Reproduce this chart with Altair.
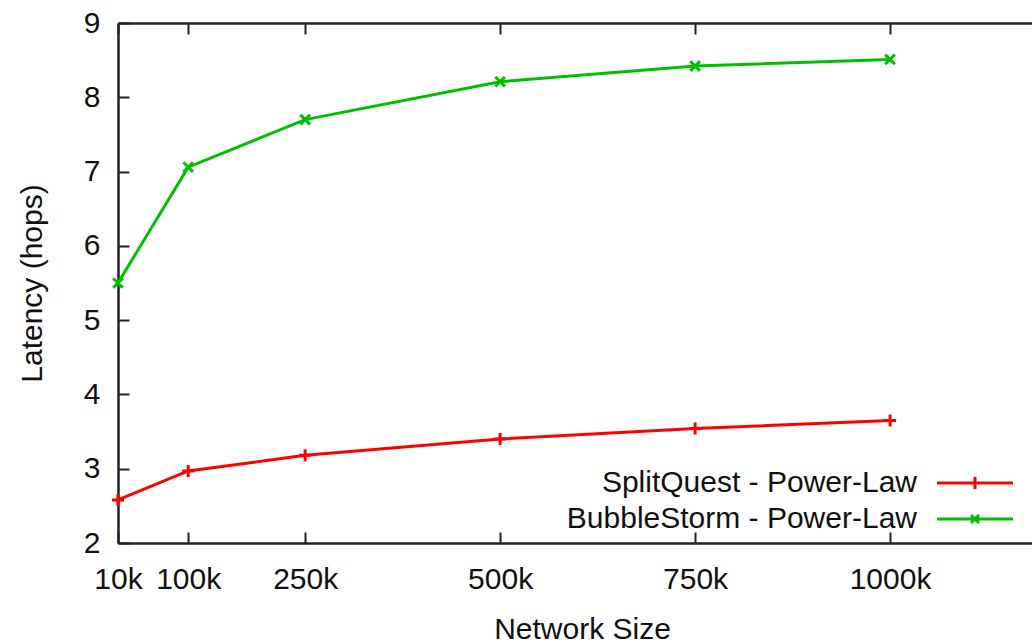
import altair as alt
import pandas as pd

# Network sizes (nodes) and measured mean latency in hops
sizes = [10000, 100000, 250000, 500000, 750000, 1000000]
splitquest = [2.58, 2.97, 3.18, 3.40, 3.54, 3.65]
bubblestorm = [5.50, 7.06, 7.70, 8.21, 8.42, 8.51]

series_names = ["SplitQuest - Power-Law", "BubbleStorm - Power-Law"]
series_colors = ["#ff0000", "#00c000"]
y_ticks = [2, 3, 4, 5, 6, 7, 8, 9]

rows = []
for name, values in zip(series_names, [splitquest, bubblestorm]):
    for s, v in zip(sizes, values):
        rows.append({"size": s, "latency": v, "series": name})
df = pd.DataFrame(rows)

FONT = "Liberation Sans"
INK = "#111111"
AXIS_INK = "#222222"

# gnuplot-like point glyphs: "+" and "x", drawn as stroked paths
marker_paths = ["M-1,0L1,0M0,-1L0,1", "M-0.8,-0.8L0.8,0.8M-0.8,0.8L0.8,-0.8"]
# key samples: a line segment with the series' glyph in the middle
key_paths = [
    "M-3.8,0L3.8,0M0,-0.6L0,0.6",
    "M-3.8,0L3.8,0M-0.4,-0.4L0.4,0.4M-0.4,0.4L0.4,-0.4",
]

x_scale = alt.Scale(domain=[10000, 1182000], nice=False, zero=False)
y_scale = alt.Scale(domain=[2, 9], nice=False, zero=False)
color_scale = alt.Scale(domain=series_names, range=series_colors)

inward = alt.ExprRef("-11")

y_enc = alt.Y(
    "latency:Q",
    scale=y_scale,
    axis=alt.Axis(
        values=y_ticks,
        grid=False,
        domainColor=AXIS_INK,
        domainWidth=2.5,
        tickColor=AXIS_INK,
        tickWidth=2,
        tickSize=inward,
        labelPadding=29,
        labelFont=FONT,
        labelFontSize=30,
        labelColor=INK,
        title="Latency (hops)",
        titleFont=FONT,
        titleFontSize=30,
        titleFontWeight="normal",
        titleColor=INK,
        titleAngle=270,
        titleX=-77,
        titleY=260,
        titleAlign="center",
        titleBaseline="alphabetic",
    ),
)

x_bottom = alt.X(
    "size:Q",
    scale=x_scale,
    axis=alt.Axis(
        orient="bottom",
        values=sizes,
        labelExpr="datum.value / 1000 + 'k'",
        grid=False,
        domainColor=AXIS_INK,
        domainWidth=2.5,
        tickColor=AXIS_INK,
        tickWidth=2,
        tickSize=inward,
        labelPadding=32,
        labelFont=FONT,
        labelFontSize=30,
        labelColor=INK,
        labelFlush=False,
        labelOverlap=False,
        title="Network Size",
        titleFont=FONT,
        titleFontSize=30,
        titleFontWeight="normal",
        titleColor=INK,
        titleX=464,
        titleY=95,
        titleAlign="center",
        titleBaseline="alphabetic",
    ),
)

x_top = alt.X(
    "size:Q",
    scale=x_scale,
    axis=alt.Axis(
        orient="top",
        values=sizes,
        grid=False,
        labels=False,
        title=None,
        domainColor=AXIS_INK,
        domainWidth=2.5,
        tickColor=AXIS_INK,
        tickWidth=2,
        tickSize=inward,
    ),
)

# key text sits to the left of its sample line, right-aligned
key = alt.Legend(
    title=None,
    orient="none",
    legendX=442,
    legendY=445,
    padding=0,
    labelAlign="right",
    labelFont=FONT,
    labelFontSize=30,
    labelColor=INK,
    labelLimit=0,
    symbolSize=400,
    symbolStrokeWidth=3,
    symbolOffset=400,
    labelOffset=alt.ExprRef("-73"),
    rowPadding=6,
)

lines = alt.Chart(df).mark_line(strokeWidth=3).encode(
    x=x_bottom,
    y=y_enc,
    color=alt.Color("series:N", scale=color_scale, legend=None),
    detail="series:N",
)

points = alt.Chart(df).mark_point(filled=False, strokeWidth=3, size=144, opacity=1).encode(
    x=x_top,
    y=y_enc,
    color=alt.Color("series:N", scale=color_scale, legend=None),
    shape=alt.Shape(
        "series:N",
        scale=alt.Scale(domain=series_names, range=marker_paths),
        legend=None,
    ),
)

key_layer = (
    alt.Chart(df)
    .transform_filter("false")
    .mark_point(filled=False, strokeWidth=3, opacity=1)
    .encode(
        x=alt.X("size:Q", scale=x_scale, axis=None),
        y=y_enc,
        color=alt.Color("series:N", scale=color_scale, legend=key),
        shape=alt.Shape(
            "series:N",
            scale=alt.Scale(domain=series_names, range=key_paths),
            legend=key,
        ),
    )
)

chart = (
    alt.layer(lines, points, key_layer)
    .resolve_axis(x="independent")
    .resolve_scale(color="independent", shape="independent")
    .properties(
        width=914,
        height=520,
        autosize=alt.AutoSizeParams(type="none"),
        padding={"left": 118, "top": 23, "right": 0, "bottom": 100},
        background="white",
    )
    .configure_view(stroke=None)
)

chart.save("out.html", embed_options={"renderer": "svg", "actions": False})
